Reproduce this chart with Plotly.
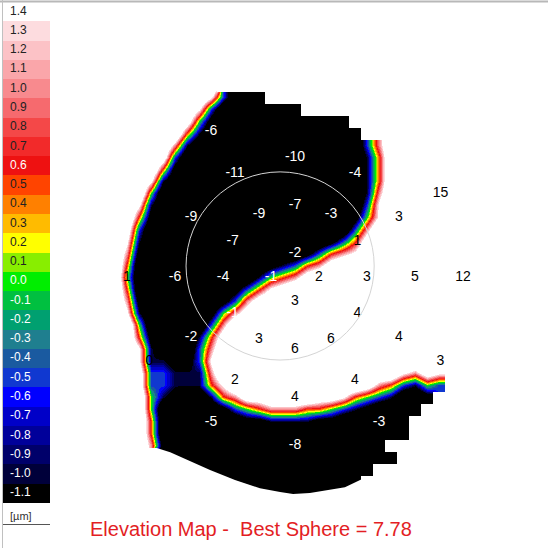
import math
import plotly.graph_objects as go

# ---------------- data ----------------
# labelled grid points of the elevation map (rings in mm, angles in degrees, values in µm)
RING_RADII_MM = [0.5, 1.5, 2.5, 3.5]
RING_ANGLES_DEG = [
    [0, 90, 180, 270],
    [0, 30, 60, 90, 120, 150, 180, 210, 240, 270, 300, 330],
    [0, 30, 60, 90, 120, 150, 180, 210, 240, 270, 300, 330],
    [0, 30, 120, 180, 210, 240, 270, 300, 330],
]
RING_VALUES_UM = [
    [2, -2, -1, 3],
    [3, 1, -3, -7, -9, -7, -4, -1, 3, 6, 6, 4],
    [5, 3, -4, -10, -11, -9, -6, -2, 2, 4, 4, 4],
    [12, 15, -6, 1, 0, -5, -8, -3, 3],
]

# colour scale levels (µm)
LEVELS = [-1.1, -1.0, -0.9, -0.8, -0.7, -0.6, -0.5, -0.4, -0.3, -0.2, -0.1, 0.0,
          0.1, 0.2, 0.3, 0.4, 0.5, 0.6, 0.7, 0.8, 0.9, 1.0, 1.1, 1.2, 1.3, 1.4]
LEVEL_LABELS = ["-1.1", "-1.0", "-0.9", "-0.8", "-0.7", "-0.6", "-0.5", "-0.4", "-0.3",
                "-0.2", "-0.1", "0.0", "0.1", "0.2", "0.3", "0.4", "0.5", "0.6", "0.7",
                "0.8", "0.9", "1.0", "1.1", "1.2", "1.3", "1.4"]
LEVEL_COLORS = ["#000000", "#00003a", "#00006a", "#00009a", "#0000c8", "#0000ff",
                "#1038d0", "#1a5aa0", "#1f7f8f", "#00a070", "#00c040", "#00ee00",
                "#88ee00", "#ffff00", "#ffbb00", "#ff8000", "#ff4400", "#ee1111",
                "#f22a2a", "#f44848", "#f66a6e", "#f88a8e", "#faa6aa", "#fcc2c6",
                "#fddcdf", "#ffffff"]

# elevation field on a 0.25 mm grid (top row first).
# digit d -> value -2 + 0.5*d µm, blank -> no data
FIELD_ROWS = [
    "9" * 9 + " " * 22,
    "9" * 8 + "73" + "0" * 3 + " " * 18,
    "9" * 7 + "73" + "0" * 7 + " " * 15,
    "9" * 6 + "841" + "0" * 11 + " " * 11,
    "9" * 6 + "52" + "0" * 12 + "1" + " " * 10,
    "9" * 5 + "62" + "0" * 14 + "36" + "9" * 8,
    "9" * 4 + "83" + "0" * 15 + "25" + "9" * 8,
    "9" * 4 + "51" + "0" * 15 + "25" + "9" * 8,
    "9" * 3 + "72" + "0" * 16 + "25" + "9" * 8,
    "9" * 3 + "4" + "0" * 17 + "26" + "9" * 8,
    "9" * 2 + "72" + "0" * 17 + "37" + "9" * 8,
    "9" * 2 + "51" + "0" * 16 + "147" + "9" * 8,
    "9" + "83" + "0" * 17 + "36" + "9" * 9,
    "9" + "72" + "0" * 15 + "1358" + "9" * 9,
    "9" + "61" + "0" * 13 + "13567" + "9" * 10,
    "9" + "5" + "0" * 11 + "123568" + "9" * 12,
    "9" + "4" + "0" * 10 + "24568" + "9" * 14,
    "9" + "5" + "0" * 8 + "13578" + "9" * 16,
    "9" + "61" + "0" * 6 + "1368" + "9" * 18,
    "9" + "72" + "0" * 5 + "1468" + "9" * 19,
    "99" + "4" + "0" * 5 + "36" + "9" * 21,
    "99" + "51" + "0" * 3 + "258" + "9" * 21,
    "99" + "7210036" + "9" * 22,
    "99" + "7221137" + "9" * 22,
    "99" + "8332226" + "9" * 15 + "7687" + " " * 3,
    "99" + "83322257" + "9" * 11 + "8653243" + " " * 3,
    "999" + "42100" + "2568" + "8" + "9999" + "8875" + "432001" + " " * 4,
    "999" + "4" + "0" * 5 + "1345666554321" + "0" * 4 + " " * 5,
    "999" + "5" + "0" * 7 + "11222211" + "0" * 6 + " " * 6,
    "999" + "5" + "0" * 21 + " " * 6,
    "999" + "61" + "0" * 18 + " " * 8,
    " " * 4 + "0" * 20 + " " * 7,
    " " * 4 + "0" * 18 + " " * 9,
    " " * 5 + "0" * 16 + " " * 10,
    " " * 8 + "0" * 12 + " " * 11,
]

# lower rim of the measured zone (mm)
RIM_X_MM = [-2.88, -2.60, -2.29, -1.77, -1.25, -0.73, -0.31, -0.04, 0.31, 0.73, 1.04, 1.40]
RIM_Y_MM = [-3.56, -3.65, -3.79, -4.02, -4.23, -4.40, -4.48, -4.52, -4.50, -4.44, -4.38, -4.21]

PUPIL_CENTER_MM = (-0.31, 0.23)
PUPIL_RADIUS_MM = 1.96
TITLE = "Elevation Map -\u00a0 Best Sphere = 7.78"

# ---------------- layout constants ----------------
W = H = 548
CX, CY = 295, 277          # pixel position of map centre
PX_MM = 48.0               # pixels per mm
GRID_MM = 0.25
GRID_X0_MM = -3.75
GRID_Y0_MM = 4.0
FONT = "Arial, Liberation Sans, sans-serif"

for row in FIELD_ROWS:
    assert len(row) == 31, (len(row), row)

def decode(ch):
    return None if ch == " " else -2.0 + 0.5 * int(ch)

nrows = len(FIELD_ROWS)
ncols = len(FIELD_ROWS[0])
field_y = [GRID_Y0_MM - GRID_MM * r for r in range(nrows)]
field_x = [GRID_X0_MM + GRID_MM * c for c in range(ncols)]
field_z = [[decode(ch) for ch in row] for row in FIELD_ROWS]
field_y = field_y[::-1]
field_z = field_z[::-1]

zmin, zmax = LEVELS[0] - 0.05, LEVELS[-1] + 0.05
n = len(LEVEL_COLORS)
colorscale = []
for k, col in enumerate(LEVEL_COLORS):
    colorscale.append([k / n, col])
    colorscale.append([(k + 1) / n, col])

fig = go.Figure()

fig.add_trace(go.Heatmap(
    x=field_x, y=field_y, z=field_z, zsmooth="best",
    colorscale=colorscale, zmin=zmin, zmax=zmax, showscale=False,
    hoverinfo="skip", xaxis="x", yaxis="y"))

# white area below the rim of the measured zone
low = min(field_y) - 0.5
mask_x = [RIM_X_MM[0] - 0.4] + RIM_X_MM + [RIM_X_MM[-1], RIM_X_MM[-1], RIM_X_MM[0] - 0.4]
mask_y = [RIM_Y_MM[0]] + RIM_Y_MM + [RIM_Y_MM[-1] - 0.2, low, low]
fig.add_trace(go.Scatter(
    x=mask_x, y=mask_y, mode="lines", fill="toself", fillcolor="#ffffff",
    line=dict(width=0, color="#ffffff"), hoverinfo="skip", xaxis="x", yaxis="y"))

# grid value labels
lx, ly, lt, lc = [], [], [], []
for r, angs, vals in zip(RING_RADII_MM, RING_ANGLES_DEG, RING_VALUES_UM):
    for a, v in zip(angs, vals):
        lx.append(r * math.cos(math.radians(a)))
        ly.append(r * math.sin(math.radians(a)))
        lt.append(str(v))
        lc.append("#ffffff" if v < 0 else "#000000")
fig.add_trace(go.Scatter(
    x=lx, y=ly, text=lt, mode="text", textposition="middle center",
    textfont=dict(family=FONT, size=14, color=lc), hoverinfo="skip",
    xaxis="x", yaxis="y"))

# colour bar (left)
fig.add_trace(go.Heatmap(
    x=[0.5], y=LEVELS, z=[[v] for v in LEVELS],
    colorscale=colorscale, zmin=zmin, zmax=zmax, showscale=False,
    hoverinfo="skip", xaxis="x2", yaxis="y2"))
label_colors = ["#ffffff" if (v <= 0.0 or abs(v - 0.6) < 1e-9) else "#222222" for v in LEVELS]
fig.add_trace(go.Scatter(
    x=[0.15] * len(LEVELS), y=LEVELS, text=LEVEL_LABELS, mode="text",
    textposition="middle right",
    textfont=dict(family=FONT, size=12, color=label_colors), hoverinfo="skip",
    xaxis="x2", yaxis="y2"))

pcx, pcy = PUPIL_CENTER_MM
shapes = [
    dict(type="circle", xref="x", yref="y",
         x0=pcx - PUPIL_RADIUS_MM, x1=pcx + PUPIL_RADIUS_MM,
         y0=pcy - PUPIL_RADIUS_MM, y1=pcy + PUPIL_RADIUS_MM,
         line=dict(color="#d4d4d4", width=1)),
    dict(type="line", xref="paper", yref="paper", x0=0, x1=1, y0=1 - 1.5 / H, y1=1 - 1.5 / H,
         line=dict(color="#b8b8b8", width=2)),
    dict(type="line", xref="paper", yref="paper", x0=2.5 / W, x1=2.5 / W, y0=0, y1=1,
         line=dict(color="#c0c0c0", width=1)),
    dict(type="line", xref="paper", yref="paper", x0=3 / W, x1=50 / W,
         y0=1 - 524.5 / H, y1=1 - 524.5 / H, line=dict(color="#555555", width=1)),
]

annotations = [
    dict(text="[µm]", xref="paper", yref="paper", x=8 / W, y=1 - 516 / H,
         xanchor="left", yanchor="middle", showarrow=False,
         font=dict(family=FONT, size=11, color="#333333")),
    dict(text=TITLE, xref="paper", yref="paper", x=251 / W, y=1 - 529 / H,
         xanchor="center", yanchor="middle", showarrow=False,
         font=dict(family=FONT, size=20, color="#e31e24")),
]

fig.update_layout(
    width=W, height=H, margin=dict(l=0, r=0, t=0, b=0),
    paper_bgcolor="#ffffff", plot_bgcolor="rgba(0,0,0,0)",
    showlegend=False, hovermode=False,
    xaxis=dict(domain=[0, 1], range=[-CX / PX_MM, (W - CX) / PX_MM], visible=False,
               fixedrange=True),
    yaxis=dict(domain=[0, 1], range=[-(H - CY) / PX_MM, CY / PX_MM], visible=False,
               fixedrange=True),
    xaxis2=dict(domain=[3 / W, 50 / W], range=[0, 1], visible=False, fixedrange=True,
                anchor="y2"),
    yaxis2=dict(domain=[1 - 503 / H, 1 - 2 / H], range=[zmin, zmax], visible=False,
                fixedrange=True, anchor="x2"),
    shapes=shapes, annotations=annotations,
)

fig.write_html(
    "out.html",
    config={"displayModeBar": False},
    post_script="document.body.style.margin='0';document.body.style.overflow='hidden';",
)
